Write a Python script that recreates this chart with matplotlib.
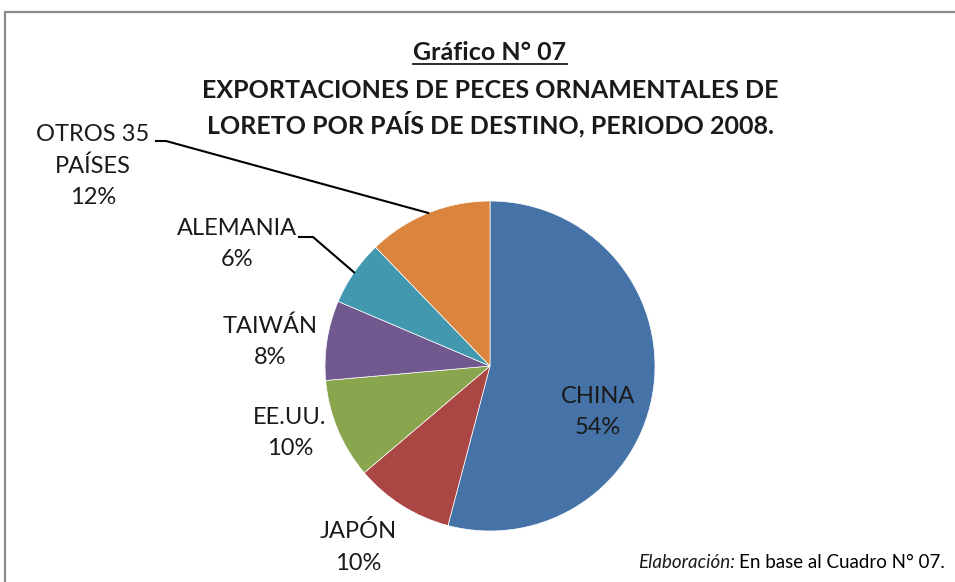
import matplotlib
matplotlib.use("Agg")
import matplotlib.pyplot as plt
import numpy as np
from matplotlib.patches import Rectangle
from matplotlib.lines import Line2D

categories = ["CHINA", "JAPÓN", "EE.UU.", "TAIWÁN", "ALEMANIA", "OTROS 35\nPAÍSES"]
values = [54.1, 9.7, 9.8, 7.8, 6.4, 12.2]
pct_labels = ["54%", "10%", "10%", "8%", "6%", "12%"]
colors = ["#4572A7", "#AA4643", "#89A54E", "#71588F", "#4198AF", "#DB843E"]

W, H = 955, 582
FONT = "Lato"
plt.rcParams['font.family'] = [FONT, 'DejaVu Sans']

fig = plt.figure(figsize=(W / 100, H / 100), dpi=100)

# outer frame
fig.patches.append(Rectangle((5 / W, -0.1), 1.2, (H - 12) / H + 0.1, transform=fig.transFigure,
                             fill=False, edgecolor="#8c8c8c", linewidth=1.6))

cx, cy, R = 490, 366, 165
ax = fig.add_axes([(cx - R) / W, (H - cy - R) / H, 2 * R / W, 2 * R / H])

wedges, _ = ax.pie(values, colors=colors, startangle=90, counterclock=False, radius=1,
                   wedgeprops=dict(edgecolor="white", linewidth=0.5))
ax.set_xlim(-1, 1)
ax.set_ylim(-1, 1)
ax.set_aspect("equal")
ax.axis("off")

def px(x, y):
    return (x - cx) / R, (cy - y) / R

fs = 17
# label positions (pixel layout)
label_pos = {
    0: (598, 412),
    1: (358, 547),
    2: (290, 433),
    3: (270, 342),
    4: (237, 244),
    5: (93, 166),
}
for i, (x, y) in label_pos.items():
    txt = categories[i] + "\n" + pct_labels[i]
    tx, ty = px(x, y)
    ax.text(tx, ty, txt, ha="center", va="center", fontsize=fs, color="#1a1a1a",
            linespacing=1.6, clip_on=False)

# leader lines from label to wedge middle
def mid_point(i):
    w = wedges[i]
    a = np.deg2rad((w.theta1 + w.theta2) / 2)
    return np.cos(a), np.sin(a)

for i, start, knee in [(5, (156, 141), (166, 141)), (4, (299, 237), (313, 237))]:
    mx, my = mid_point(i)
    p0 = px(*start)
    p1 = px(*knee)
    ax.plot([p0[0], p1[0], mx], [p0[1], p1[1], my], color="black", lw=1.5,
            clip_on=False, solid_joinstyle="miter")

# titles
tfs = 18
t1 = fig.text(490 / W, 1 - 52 / H, "Gráfico N° 07", ha="center", va="center",
              fontsize=tfs, fontweight="bold", color="#1a1a1a")
fig.text(490 / W, 1 - 90 / H, "EXPORTACIONES DE PECES ORNAMENTALES DE", ha="center",
         va="center", fontsize=tfs, fontweight="bold", color="#1a1a1a")
fig.text(490 / W, 1 - 124 / H, "LORETO POR PAÍS DE DESTINO, PERIODO 2008.", ha="center",
         va="center", fontsize=tfs, fontweight="bold", color="#1a1a1a")

fig.canvas.draw()
r = fig.canvas.get_renderer()
bb = t1.get_window_extent(r)
uy = 1 - 64 / H
fig.lines.append(Line2D([bb.x0 / W, bb.x1 / W], [uy, uy], transform=fig.transFigure,
                        color="#1a1a1a", lw=1.3))

# footer
ffs = 13.5
f2 = fig.text(945 / W, 1 - 563 / H, "En base al Cuadro N° 07.", ha="right", va="center",
              fontsize=ffs, color="black")
fig.canvas.draw()
b2 = f2.get_window_extent(r)
fig.text(b2.x0 / W - 4 / W, 1 - 563 / H, "Elaboración:", ha="right", va="center",
         fontsize=ffs, style="italic", color="#1a1a1a")

fig.savefig("out.png", dpi=100)
